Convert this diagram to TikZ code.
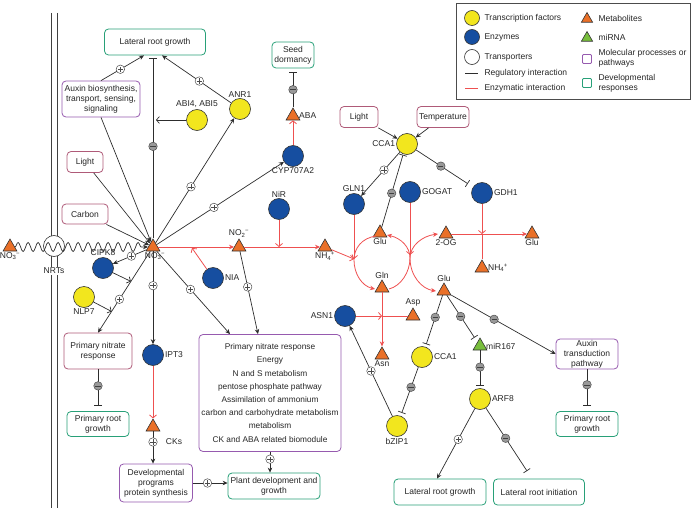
\documentclass[tikz,border=0pt]{standalone}
\usepackage{fontspec}
\setmainfont{Liberation Sans}
\usetikzlibrary{shapes.geometric,arrows.meta,decorations.pathmorphing,calc}

\definecolor{tfyellow}{RGB}{242,230,30}
\definecolor{enzblue}{RGB}{22,78,160}
\definecolor{metorange}{RGB}{234,112,40}
\definecolor{mirgreen}{RGB}{120,190,60}
\definecolor{devgreen}{RGB}{40,160,120}
\definecolor{procpurple}{RGB}{150,90,175}
\definecolor{cuepink}{RGB}{175,90,120}
\definecolor{enzred}{RGB}{238,80,80}
\definecolor{reggray}{RGB}{45,45,45}

% ion label: sub- and superscript
\newcommand\ionlbl[3]{#1\textsubscript{#2}\kern-0.3pt\textsuperscript{#3}}

\tikzset{
  every node/.style={font=\fontsize{8.5}{10}\selectfont, text=black!85},
  every label/.style={inner sep=1pt},
  tf/.style={circle, draw=black!80, line width=0.6pt, fill=tfyellow, minimum size=21pt, inner sep=0pt},
  enz/.style={tf, fill=enzblue},
  trp/.style={tf, fill=white},
  met/.style={regular polygon, regular polygon sides=3, draw=black!80, line width=0.6pt, fill=metorange, minimum size=16pt, inner sep=0pt},
  mirna/.style={met, fill=mirgreen},
  devbox/.style={draw=devgreen, line width=0.8pt, rounded corners=4pt, fill=white, align=center, inner sep=1pt},
  procbox/.style={devbox, draw=procpurple},
  cuebox/.style={devbox, draw=cuepink},
  reg/.style={draw=reggray, line width=0.7pt},
  enzy/.style={draw=enzred, line width=0.8pt},
  act/.style={-{Stealth[length=5pt,width=4.5pt]}},
  vee/.style={-{Straight Barb[length=3pt,width=7pt]}},
  inh/.style={-{Bar[width=8pt]}},
  pls/.style={circle, draw=black!70, line width=0.5pt, fill=white, minimum size=8.5pt, inner sep=0pt,
    path picture={\draw[-, black!70, line width=0.5pt]
      ([xshift=-2.6pt]path picture bounding box.center) -- ([xshift=2.6pt]path picture bounding box.center)
      ([yshift=-2.6pt]path picture bounding box.center) -- ([yshift=2.6pt]path picture bounding box.center);}},
  mns/.style={circle, draw=black!70, line width=0.5pt, fill=black!40, minimum size=8.5pt, inner sep=0pt,
    path picture={\draw[-, black!75, line width=0.5pt]
      ([xshift=-2.6pt]path picture bounding box.center) -- ([xshift=2.6pt]path picture bounding box.center);}}
}

\begin{document}
\begin{tikzpicture}[x=1pt, y=-1pt]
  \useasboundingbox (0,0) rectangle (692,508);

  % Draw the membrane and the transporter
  \draw[black!75, line width=0.8pt] (51,13) -- (51,508) (57,13) -- (57,508);
  \node[trp] (nrt) at (54,246) {};
  \node[fill=white, inner sep=1pt] (nrtlbl) at (54,271) {NRTs};

  % Metabolites
  \node[met, label=below:{\ionlbl{NO}{3}{−}}] (no3out) at (10,247) {};
  \node[met, label={[xshift=2pt]below:{\ionlbl{NO}{3}{−}}}] (no3) at (153,247) {};
  \node[met, label=above:{\ionlbl{NO}{2}{−}}] (no2) at (239,247) {};
  \node[met, label=below:{\ionlbl{NH}{4}{+}}] (nh4a) at (325,247) {};
  \node[met, label=right:ABA] (aba) at (293,116) {};
  \node[met] (cks) at (153,427) {};
  \node (ckslbl) at (174,442) {CKs};
  \node[met, label=below:Glu] (glul) at (380,233) {};
  \node[met, label=below:2-OG] (twoog) at (446,234) {};
  \node[met, label=below:Glu] (glur) at (532,234) {};
  \node[met, label=right:{\ionlbl{NH}{4}{+}}] (nh4b) at (482,268) {};
  \node[met, label=above:Gln] (gln) at (382,288) {};
  \node[met, label=above:Glu] (glulo) at (444,291) {};
  \node[met, label=above:Asp] (asp) at (413,316) {};
  \node[met, label=below:Asn] (asn) at (382,355) {};
  \node[mirna, label=right:miR167] (mir) at (480,346) {};

  % Transcription factors and enzymes
  \node[tf, label=above:{ABI4, ABI5}] (abi) at (197,120) {};
  \node[tf, label=above:ANR1] (anr1) at (240,109) {};
  \node[enz, label=below:CYP707A2] (cyp) at (293,156) {};
  \node[enz, label=above:NiR] (nir) at (279,209) {};
  \node[enz, label=right:NIA] (nia) at (213,278) {};
  \node[enz, label=above:CIPK8] (cipk) at (103,268) {};
  \node[tf, label=below:NLP7] (nlp7) at (84,297) {};
  \node[enz, label=right:IPT3] (ipt3) at (153,355) {};
  \node[tf, label=left:CCA1] (cca1) at (407,144) {};
  \node[enz, label=above:GLN1] (gln1) at (354,204) {};
  \node[enz, label=right:GOGAT] (gogat) at (410,192) {};
  \node[enz, label=right:GDH1] (gdh1) at (482,193) {};
  \node[enz, label=left:ASN1] (asn1) at (345,316) {};
  \node[tf, label=right:CCA1] (cca1b) at (422,357) {};
  \node[tf, label=below:bZIP1] (bzip1) at (397,426) {};
  \node[tf, label=right:ARF8] (arf8) at (480,399) {};

  % Processes and responses
  \node[devbox, minimum width=101pt, minimum height=26pt] (lrg1) at (155,42) {Lateral root growth};
  \node[procbox, minimum width=78pt, minimum height=36pt] (auxbio) at (101,99) {Auxin biosynthesis,\\transport, sensing,\\signaling};
  \node[devbox, minimum width=42pt, minimum height=26pt] (seed) at (293,55) {Seed\\dormancy};
  \node[cuebox, minimum width=36pt, minimum height=21pt] (light1) at (85,162) {Light};
  \node[cuebox, minimum width=46pt, minimum height=20pt] (carbon) at (85,214) {Carbon};
  \node[cuebox, minimum width=68pt, minimum height=36pt] (pnr) at (98,351) {Primary nitrate\\response};
  \node[devbox, minimum width=62pt, minimum height=25pt] (prg1) at (98,424) {Primary root\\growth};
  \node[procbox, minimum width=142pt, minimum height=117pt, font=\fontsize{8.3}{13.2}\selectfont] (bigbox) at (270,393)
    {Primary nitrate response\\Energy\\N and S metabolism\\pentose phosphate pathway\\Assimilation of ammonium\\carbon and carbohydrate metabolism\\metabolism\\CK and ABA related biomodule};
  \node[procbox, minimum width=73pt, minimum height=38pt] (devprog) at (156,483) {Developmental\\programs\\protein synthesis};
  \node[devbox, minimum width=92pt, minimum height=26pt] (plantdev) at (274,486) {Plant development and\\growth};
  \node[cuebox, minimum width=38pt, minimum height=21pt] (light2) at (359,117) {Light};
  \node[cuebox, minimum width=52pt, minimum height=21pt] (temp) at (443,117) {Temperature};
  \node[procbox, minimum width=62pt, minimum height=30pt] (atp) at (587,354) {Auxin\\transduction\\pathway};
  \node[devbox, minimum width=62pt, minimum height=25pt] (prg2) at (587,424) {Primary root\\growth};
  \node[devbox, minimum width=92pt, minimum height=26pt] (lrg2) at (440,492) {Lateral root growth};
  \node[devbox, minimum width=91pt, minimum height=26pt] (lrinit) at (539,492) {Lateral root initiation};

  % Nitrate uptake through the transporter
  \draw[reg, act, decorate, decoration={snake, amplitude=4.5pt, segment length=10pt, post length=5pt}] (no3out) -- (no3);

  % Signals acting on nitrate
  \draw[reg, act] (light1) -- (no3);
  \draw[reg, act] (carbon) -- (no3);
  \draw[reg, act] (auxbio.south) -- (no3);

  % Lateral root growth
  \draw[reg, act] (auxbio.north) -- node[pls, pos=0.45] (p1) {} ([xshift=-11pt]lrg1.south);
  \coordinate (lrgbar) at (153,58);
  \draw[reg, inh] (no3) -- node[mns, pos=0.51] (m1) {} (lrgbar);
  \coordinate (abihit) at (156,120);
  \draw[reg, vee] (abi) -- (abihit);
  \draw[reg, act] (anr1) -- node[pls, pos=0.46] (p2) {} ([xshift=7pt]lrg1.south);
  \draw[reg, act] (no3) -- node[pls, pos=0.45] (p3) {} (anr1);
  \draw[reg, act] (no3) -- node[pls, pos=0.45] (p4) {} (cyp);

  % ABA and seed dormancy
  \draw[enzy, vee] (cyp) -- (aba);
  \coordinate (seedbar) at (293,72);
  \draw[reg, inh] (aba) -- node[mns, pos=0.5] (m2) {} (seedbar);

  % Nitrate reduction
  \draw[enzy, act] (no3) -- (no2);
  \draw[enzy, act] (no2) -- (nh4a);
  \coordinate (niahit) at (192,248);
  \coordinate (nirhit) at (279,247);
  \draw[enzy, vee] (nia) -- (niahit);
  \draw[enzy, vee] (nir) -- (nirhit);

  % Primary nitrate response
  \draw[reg, act] (no3) -- node[pls, pos=0.45] (p5) {} (cipk);
  \draw[reg, act] (no3) -- coordinate[pos=0.37] (cipkhit) coordinate[pos=0.74] (nlphit)
    node[pls, pos=0.59] (p6) {} (pnr.north);
  \draw[reg, vee] (cipk) -- (cipkhit);
  \draw[reg, vee] (nlp7) -- (nlphit);
  \coordinate (prgbar) at (98,406);
  \draw[reg, inh] (pnr) -- node[mns, pos=0.45] (m3) {} (prgbar);

  % Cytokinins and development
  \draw[reg, act] (no3) -- node[pls, pos=0.37] (p7) {} (ipt3);
  \draw[enzy, vee] (ipt3) -- (cks);
  \draw[reg, act] (cks) -- node[pls, pos=0.33] (p8) {} (cks |- devprog.north);
  \draw[reg, act] (devprog.east) -- node[pls, pos=0.42] (p9) {} (devprog.east -| plantdev.west);
  \draw[reg, act] (no3) -- node[pls, pos=0.46] (p10) {} ([xshift=-40pt]bigbox.north);
  \draw[reg, act] (no2) -- node[pls, pos=0.43] (p11) {} ([xshift=-12pt]bigbox.north);
  \draw[reg, act] (bigbox.south) -- node[pls, pos=0.35] (p12) {} (bigbox.south |- plantdev.north);

  % Circadian control
  \draw[reg, act] (light2) -- (cca1);
  \draw[reg, act] (temp) -- (cca1);
  \draw[reg, act] (cca1) -- node[pls, pos=0.41] (p13) {} (gln1);
  \draw[reg, inh] (glul) -- node[mns, pos=0.47] (m4) {} ([xshift=-4pt]cca1.south);
  \coordinate (gdhbar) at ($(gdh1)!17pt!(cca1)$);
  \draw[reg, inh] (cca1) -- node[mns, pos=0.48] (m5) {} (gdhbar);

  % Ammonium assimilation cycle
  \coordinate (gsjoin) at (354,259);
  \coordinate (gogatjoin) at (410,255);
  \draw[enzy, vee] (gln1) -- (gsjoin);
  \draw[enzy, vee] (nh4a) -- (gsjoin);
  \draw[enzy, vee] (gogat) -- (gogatjoin);
  \draw[enzy, act] (376,236) .. controls (362,238) and (354,248) .. (354,260) .. controls (354,274) and (362,286) .. (375,289);
  \draw[enzy] (389,289) .. controls (401,286) and (410,272) .. (410,258);
  \draw[enzy, act] (410,258) .. controls (410,247) and (401,238) .. (387,235);
  \draw[enzy, act] (410,258) .. controls (410,246) and (422,236) .. (438,234);
  \draw[enzy, act] (410,258) .. controls (410,276) and (422,289) .. (436,291);
  \coordinate (gdhjoin) at (482,234);
  \draw[enzy, vee] (gdh1) -- (gdhjoin);
  \draw[enzy] (gdhjoin) -- (nh4b);
  \draw[enzy, act] (twoog) -- (glur);

  % Asparagine
  \draw[enzy, act] (gln) -- (asn);
  \coordinate (asnjoin) at (382,316);
  \draw[enzy, vee] (asn1) -- (asnjoin);
  \draw[enzy] (asnjoin) -- (asp);
  \draw[reg, act] (bzip1) -- node[pls, pos=0.5] (p14) {} (asn1);

  % Glutamate signalling
  \coordinate (ccabar) at ($(cca1b)!13.5pt!(glulo)$);
  \draw[reg, inh] (glulo) -- node[mns, pos=0.45] (m6) {} (ccabar);
  \coordinate (bzipbar) at ($(bzip1)!14pt!(cca1b)$);
  \draw[reg, inh] (cca1b) -- node[mns, pos=0.44] (m7) {} (bzipbar);
  \coordinate (mirbar) at ($(mir)!10pt!(glulo)$);
  \draw[reg, inh] (glulo) -- node[mns, pos=0.5] (m8) {} (mirbar);
  \coordinate (arfbar) at ($(arf8)!13pt!(mir)$);
  \draw[reg, inh] (mir) -- node[mns, pos=0.47] (m9) {} (arfbar);
  \draw[reg, act] (glulo) -- node[mns, pos=0.41] (m10) {} (atp.west);
  \coordinate (prg2bar) at (587,406);
  \draw[reg, inh] (atp) -- node[mns, pos=0.42] (m11) {} (prg2bar);
  \draw[reg, act] (arf8) -- node[pls, pos=0.44] (p15) {} ([xshift=-3pt]lrg2.north);
  \coordinate (lribar) at (527,471);
  \draw[reg, inh] (arf8) -- node[mns, pos=0.48] (m12) {} (lribar);

  % Legend
  \draw[black!70, line width=0.8pt] (456,3) rectangle (690,99);
  \node[tf, minimum size=15pt] (lgtf) at (472,18) {};
  \node[anchor=west] (lgtftxt) at (481,18) {Transcription factors};
  \node[enz, minimum size=15pt] (lgenz) at (472,37) {};
  \node[anchor=west] (lgenztxt) at (481,37) {Enzymes};
  \node[trp, minimum size=15pt] (lgtrp) at (472,57) {};
  \node[anchor=west] (lgtrptxt) at (481,57) {Transporters};
  \draw[reg] (465,73) -- (478,73);
  \node[anchor=west] (lgregtxt) at (481,73) {Regulatory interaction};
  \draw[enzy] (465,88) -- (478,88);
  \node[anchor=west] (lgenytxt) at (481,88) {Enzymatic interaction};
  \node[met, minimum size=13pt] (lgmet) at (587,19) {};
  \node[anchor=west] (lgmettxt) at (595,18) {Metabolites};
  \node[mirna, minimum size=13pt] (lgmir) at (587,38) {};
  \node[anchor=west] (lgmirtxt) at (595,37) {miRNA};
  \node[draw=procpurple, line width=0.8pt, rounded corners=1pt, minimum size=9pt, inner sep=0pt] (lgproc) at (587,59) {};
  \node[anchor=west, align=left] (lgproctxt) at (595,58) {Molecular processes or\\pathways};
  \node[draw=devgreen, line width=0.8pt, rounded corners=1pt, minimum size=9pt, inner sep=0pt] (lgdev) at (587,83) {};
  \node[anchor=west, align=left] (lgdevtxt) at (595,83) {Developmental\\responses};
\end{tikzpicture}
\end{document}
